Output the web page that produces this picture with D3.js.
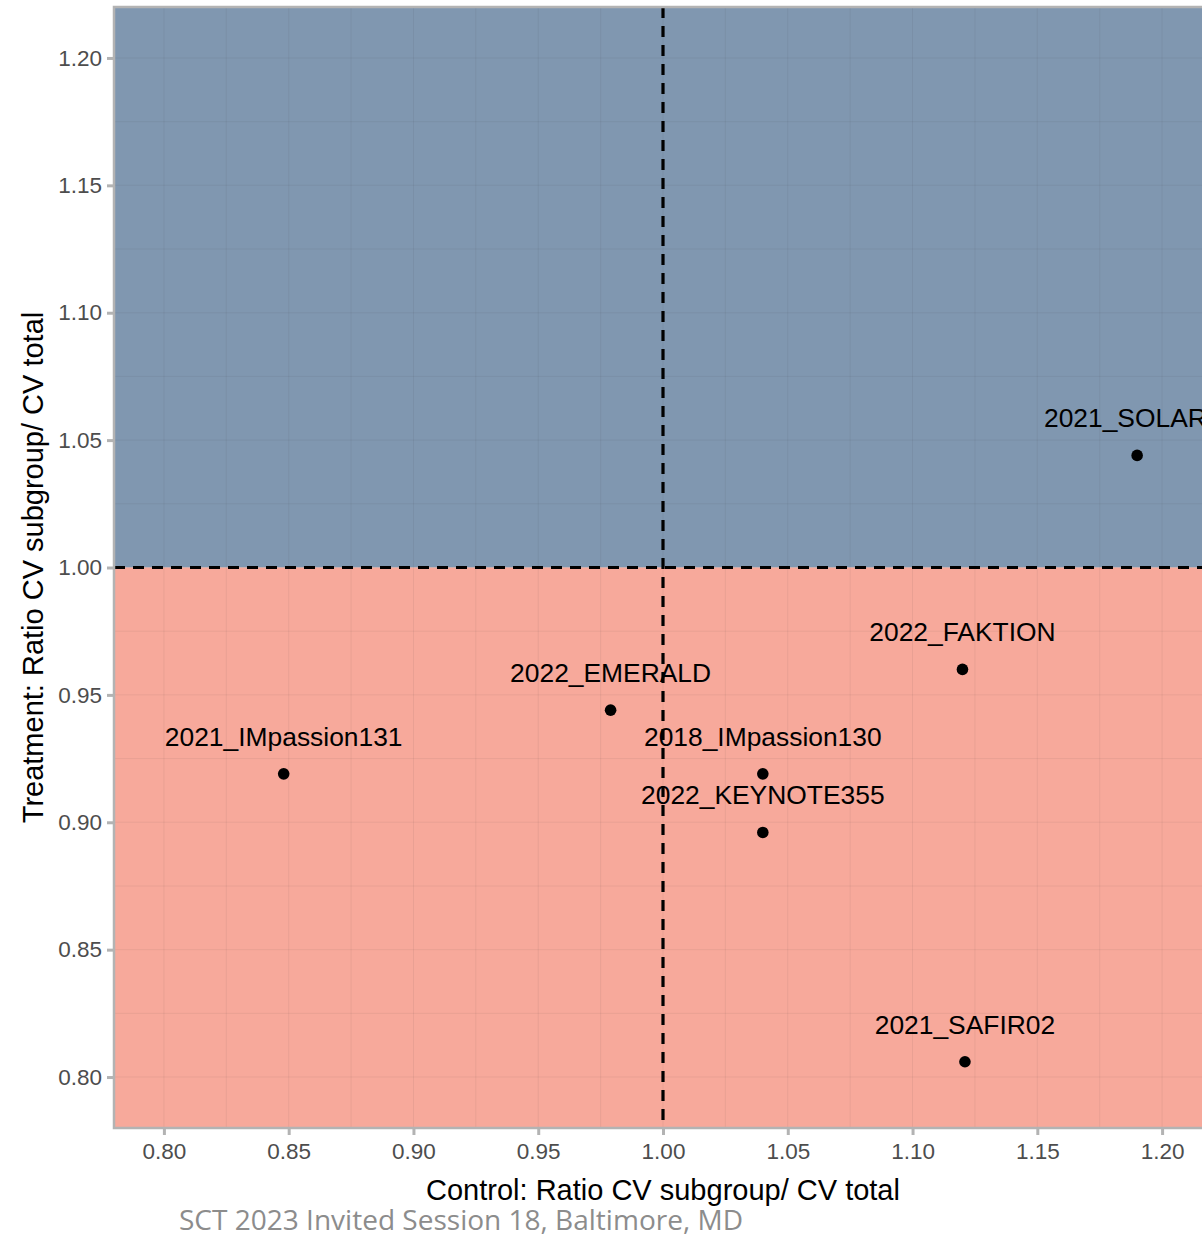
<!DOCTYPE html>
<html>
<head>
<meta charset="utf-8">
<script src="https://cdn.jsdelivr.net/npm/d3@7"></script>
<style>
  body { margin: 0; background: #ffffff; }
  svg { display: block; }
</style>
</head>
<body>
<svg id="chart" width="1202" height="1235"></svg>
<script>
// Trials and their CV ratios (control on x, treatment on y)
const trials = ["2021_SOLAR-1", "2022_FAKTION", "2022_EMERALD", "2021_IMpassion131",
                "2018_IMpassion130", "2022_KEYNOTE355", "2021_SAFIR02"];
const controlRatio   = [1.190, 1.120, 0.979, 0.848, 1.040, 1.040, 1.121];
const treatmentRatio = [1.044, 0.960, 0.944, 0.919, 0.919, 0.896, 0.806];

const xTicks = [0.80, 0.85, 0.90, 0.95, 1.00, 1.05, 1.10, 1.15, 1.20];
const yTicks = [0.80, 0.85, 0.90, 0.95, 1.00, 1.05, 1.10, 1.15, 1.20];
const minorBreaks = d3.range(0, 19).map(i => 0.775 + i * 0.025);

const xDomain = [0.78, 1.22];
const yDomain = [0.78, 1.22];
const refLine = 1.00;

const xTitle = "Control: Ratio CV subgroup/ CV total";
const yTitle = "Treatment: Ratio CV subgroup/ CV total";
const caption = "SCT 2023 Invited Session 18, Baltimore, MD";

const svg = d3.select("#chart");
const panel = { left: 114, top: 7, right: 1212, bottom: 1128 };

const x = d3.scaleLinear().domain(xDomain).range([panel.left, panel.right]);
const y = d3.scaleLinear().domain(yDomain).range([panel.bottom, panel.top]);

svg.append("defs").append("clipPath").attr("id", "panel-clip")
  .append("rect")
  .attr("x", panel.left).attr("y", panel.top)
  .attr("width", panel.right - panel.left).attr("height", panel.bottom - panel.top);

const g = svg.append("g").attr("clip-path", "url(#panel-clip)");

// Quadrant fills: above the reference line and below it
g.append("rect")
  .attr("x", x(xDomain[0])).attr("y", y(yDomain[1]))
  .attr("width", x(xDomain[1]) - x(xDomain[0]))
  .attr("height", y(refLine) - y(yDomain[1]))
  .attr("fill", "#8097b0");
g.append("rect")
  .attr("x", x(xDomain[0])).attr("y", y(refLine))
  .attr("width", x(xDomain[1]) - x(xDomain[0]))
  .attr("height", y(yDomain[0]) - y(refLine))
  .attr("fill", "#f7a99b");

// Grid (minor + major)
const grid = g.append("g");
grid.selectAll("line.vx").data(minorBreaks).join("line")
  .attr("x1", d => x(d)).attr("x2", d => x(d))
  .attr("y1", panel.top).attr("y2", panel.bottom)
  .attr("stroke", "rgba(60,60,60,0.07)").attr("stroke-width", 1);
grid.selectAll("line.hy").data(minorBreaks).join("line")
  .attr("y1", d => y(d)).attr("y2", d => y(d))
  .attr("x1", panel.left).attr("x2", panel.right)
  .attr("stroke", "rgba(60,60,60,0.07)").attr("stroke-width", 1);

// Dashed reference lines
g.append("line")
  .attr("x1", x(refLine)).attr("x2", x(refLine))
  .attr("y1", panel.top).attr("y2", panel.bottom)
  .attr("stroke", "#000").attr("stroke-width", 3.2)
  .attr("stroke-dasharray", "11,8");
g.append("line")
  .attr("x1", panel.left).attr("x2", panel.right)
  .attr("y1", y(refLine)).attr("y2", y(refLine))
  .attr("stroke", "#000").attr("stroke-width", 3.2)
  .attr("stroke-dasharray", "11,8");

// Points and labels
const pts = trials.map((name, i) => ({ name, cx: controlRatio[i], ty: treatmentRatio[i] }));
g.selectAll("circle.pt").data(pts).join("circle")
  .attr("cx", d => x(d.cx)).attr("cy", d => y(d.ty))
  .attr("r", 5.8).attr("fill", "#000");
g.selectAll("text.lab").data(pts).join("text")
  .attr("x", d => x(d.cx)).attr("y", d => y(d.ty) - 28)
  .attr("text-anchor", "middle")
  .attr("font-family", "Liberation Sans, Arial, sans-serif")
  .attr("font-size", 26.4)
  .attr("fill", "#000")
  .text(d => d.name);

// Panel border (left, top, bottom; right side falls outside the page)
svg.append("path")
  .attr("d", `M${panel.right},${panel.top}H${panel.left}V${panel.bottom}H${panel.right}`)
  .attr("fill", "none").attr("stroke", "#b3b3b3").attr("stroke-width", 2.5);

// Axes
const xAxis = svg.append("g").attr("transform", `translate(0,${panel.bottom + 1})`)
  .call(d3.axisBottom(x).tickValues(xTicks).tickFormat(d3.format(".2f")).tickSize(6).tickPadding(8));
const yAxis = svg.append("g").attr("transform", `translate(${panel.left - 1},0)`)
  .call(d3.axisLeft(y).tickValues(yTicks).tickFormat(d3.format(".2f")).tickSize(6).tickPadding(5));
[xAxis, yAxis].forEach(a => {
  a.select(".domain").remove();
  a.selectAll(".tick line").attr("stroke", "#b3b3b3").attr("stroke-width", 3);
  a.selectAll(".tick text")
    .attr("fill", "#4d4d4d")
    .attr("font-family", "Liberation Sans, Arial, sans-serif")
    .attr("font-size", 22.5);
});

// Axis titles
svg.append("text")
  .attr("x", (panel.left + panel.right) / 2).attr("y", 1200)
  .attr("text-anchor", "middle")
  .attr("font-family", "Liberation Sans, Arial, sans-serif")
  .attr("font-size", 29).attr("fill", "#000")
  .text(xTitle);
svg.append("text")
  .attr("transform", `translate(43,${(panel.top + panel.bottom) / 2}) rotate(-90)`)
  .attr("text-anchor", "middle")
  .attr("font-family", "Liberation Sans, Arial, sans-serif")
  .attr("font-size", 29).attr("fill", "#000")
  .text(yTitle);

// Footer caption
svg.append("text")
  .attr("x", 179).attr("y", 1230)
  .attr("font-family", "Open Sans, Noto Sans, sans-serif")
  .attr("font-size", 27).attr("fill", "#8c8c8c")
  .attr("textLength", 564).attr("lengthAdjust", "spacingAndGlyphs")
  .text(caption);
</script>
</body>
</html>
